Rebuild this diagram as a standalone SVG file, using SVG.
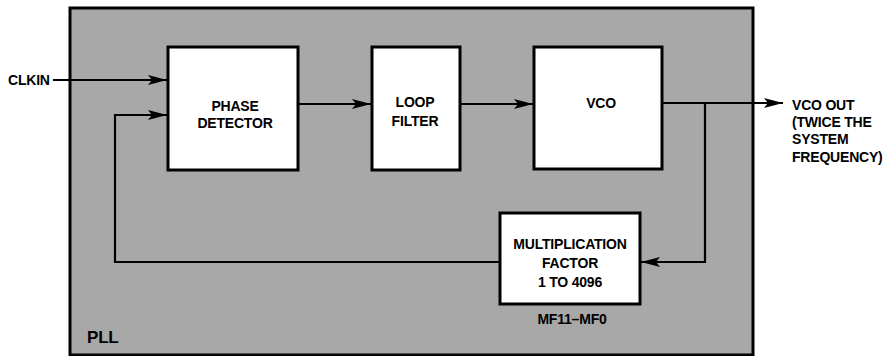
<svg xmlns="http://www.w3.org/2000/svg" width="888" height="356" viewBox="0 0 888 356">
<style>
.box{fill:#fff;stroke:#000;stroke-width:3}
.t{font-family:"Liberation Sans",Arial,sans-serif;font-weight:bold;font-size:14px;fill:#000;letter-spacing:-0.2px}
.c{text-anchor:middle}
.ln{fill:none;stroke:#000;stroke-width:2.2}
</style>
<defs>
<marker id="ah" markerWidth="20" markerHeight="12" refX="19" refY="6" orient="auto" markerUnits="userSpaceOnUse">
<path d="M0,1 L19,6 L0,11 L4,6 Z" fill="#000"/>
</marker>
</defs>
<rect width="888" height="356" fill="#fff"/>
<g id="pll">
<rect x="70" y="8" width="683" height="347" fill="#a8a8a8" stroke="#000" stroke-width="3"/>
<text class="t" x="87" y="343" style="font-size:17px">PLL</text>
</g>
<g id="phase-detector">
<rect class="box" x="168" y="47" width="130" height="123"/>
<text class="t c" x="235" y="111">PHASE</text>
<text class="t c" x="235" y="128">DETECTOR</text>
</g>
<g id="loop-filter">
<rect class="box" x="372" y="47" width="88" height="123"/>
<text class="t c" x="415" y="107">LOOP</text>
<text class="t c" x="415" y="126">FILTER</text>
</g>
<g id="vco">
<rect class="box" x="534" y="47" width="128" height="122"/>
<text class="t c" x="601" y="108">VCO</text>
</g>
<g id="mult">
<rect class="box" x="500" y="213" width="140" height="91"/>
<text class="t c" x="570" y="249">MULTIPLICATION</text>
<text class="t c" x="570" y="268">FACTOR</text>
<text class="t c" x="570" y="287">1 TO 4096</text>
<text class="t c" x="572" y="324">MF11–MF0</text>
</g>
<g id="clkin">
<text class="t" x="8" y="85">CLKIN</text>
</g>
<g id="vco-out">
<text class="t" x="792" y="110">VCO OUT</text>
<text class="t" x="792" y="127">(TWICE THE</text>
<text class="t" x="792" y="144">SYSTEM</text>
<text class="t" x="792" y="162">FREQUENCY)</text>
</g>
<g id="connectors">
<line class="ln" x1="53" y1="80" x2="167" y2="80" marker-end="url(#ah)"/>
<path class="ln" d="M500,262 H115 V115 H167" marker-end="url(#ah)"/>
<line class="ln" x1="298" y1="104" x2="371" y2="104" marker-end="url(#ah)"/>
<line class="ln" x1="460" y1="104" x2="533" y2="104" marker-end="url(#ah)"/>
<line class="ln" x1="662" y1="103" x2="783" y2="103" marker-end="url(#ah)"/>
<path class="ln" d="M705,103 V262 H641" marker-end="url(#ah)"/>
</g>
</svg>
